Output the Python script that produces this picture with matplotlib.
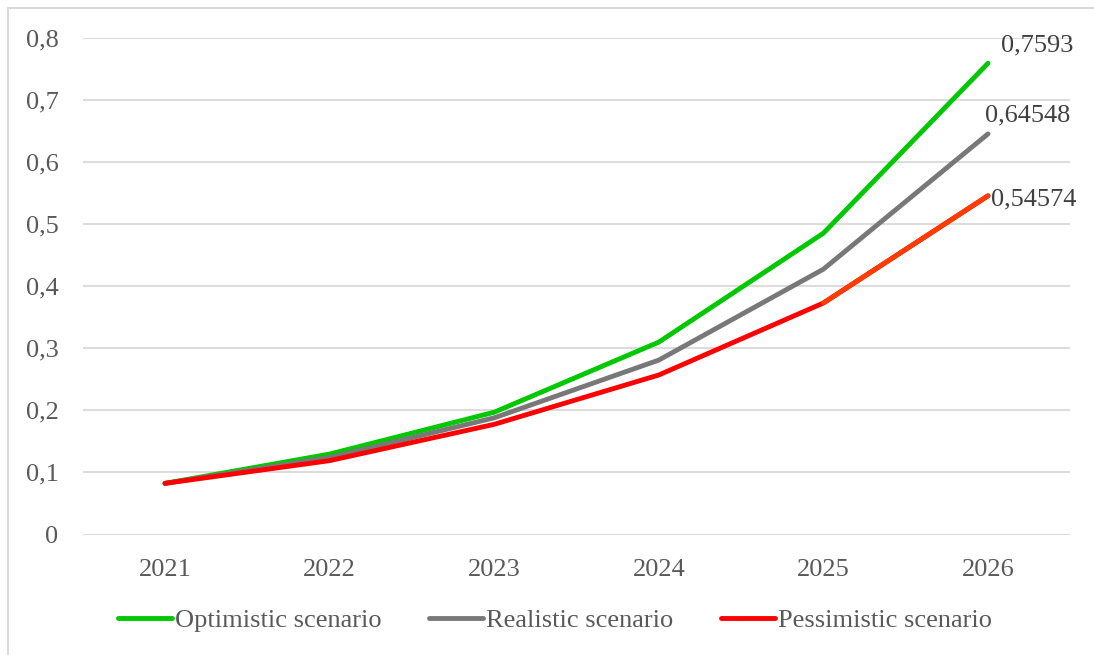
import matplotlib
matplotlib.use("Agg")
import matplotlib.pyplot as plt
from matplotlib.lines import Line2D

years = ["2021", "2022", "2023", "2024", "2025", "2026"]
optimistic = [0.0824, 0.1296, 0.197, 0.310, 0.4855, 0.7593]
realistic = [0.0824, 0.124, 0.188, 0.281, 0.4275, 0.64548]
pessimistic = [0.0824, 0.119, 0.1775, 0.257, 0.373, 0.54574]
series_names = ["Optimistic scenario", "Realistic scenario", "Pessimistic scenario"]
end_labels = ["0,7593", "0,64548", "0,54574"]
y_ticks = [0, 0.1, 0.2, 0.3, 0.4, 0.5, 0.6, 0.7, 0.8]
y_tick_labels = ["0", "0,1", "0,2", "0,3", "0,4", "0,5", "0,6", "0,7", "0,8"]

plt.rcParams['font.family'] = ['Liberation Serif', 'DejaVu Serif']

W, H = 1094, 655
FS = 19
fig = plt.figure(figsize=(W / 100, H / 100), dpi=100)
ax = fig.add_axes([82.7 / W, 1 - 534.5 / H, (1070.3 - 82.7) / W, (534.5 - 38) / H])

x = list(range(len(years)))
green = "#00C800"
gray = "#787878"
red = "#FF0000"
lw = 3.5

ax.plot(x, optimistic, color=green, lw=lw, solid_capstyle='round', label=series_names[0], zorder=3)
ax.plot(x, realistic, color=gray, lw=lw, solid_capstyle='round', label=series_names[1], zorder=4)
ax.plot(x, pessimistic, color=red, lw=lw, solid_capstyle='round', label=series_names[2], zorder=5)
# last segment of pessimistic has orange-red tint
ax.plot(x[-2:], pessimistic[-2:], color="#FF3C00", lw=lw, solid_capstyle='round', zorder=5)

ax.set_xlim(-0.5, len(years) - 0.5)
ax.set_ylim(0, 0.8)
ax.set_yticks(y_ticks)
ax.set_yticklabels(y_tick_labels)
ax.set_xticks(x)
ax.set_xticklabels(years)
ax.grid(axis='y', color='#D9D9D9', lw=1.3)
ax.set_axisbelow(True)
for s in ax.spines.values():
    s.set_visible(False)
ax.tick_params(axis='both', length=0, labelsize=FS, colors='#595959')
ax.tick_params(axis='y', pad=17.5)
ax.tick_params(axis='x', pad=18)

label_color = '#404040'
ax.annotate(end_labels[0], (x[-1], optimistic[-1]), xytext=(13, 18), textcoords='offset pixels',
            fontsize=FS, color=label_color, ha='left', va='center')
ax.annotate(end_labels[1], (x[-1], realistic[-1]), xytext=(-3, 18), textcoords='offset pixels',
            fontsize=FS, color=label_color, ha='left', va='center')
ax.annotate(end_labels[2], (x[-1], pessimistic[-1]), xytext=(3, -4), textcoords='offset pixels',
            fontsize=FS, color=label_color, ha='left', va='center')

leg = fig.legend(loc='center', bbox_to_anchor=(555 / W, 1 - 620 / H), ncol=3, frameon=False,
                 fontsize=FS, handlelength=2.05, handletextpad=0.11, columnspacing=1.8,
                 labelcolor='#595959')

# chart border (left and top visible)
fig.add_artist(Line2D([8 / W, 8 / W, 1.0], [0.0, 1 - 8 / H, 1 - 8 / H], color='#D9D9D9', lw=1.5,
                      transform=fig.transFigure))

fig.savefig("out.png", dpi=100)
